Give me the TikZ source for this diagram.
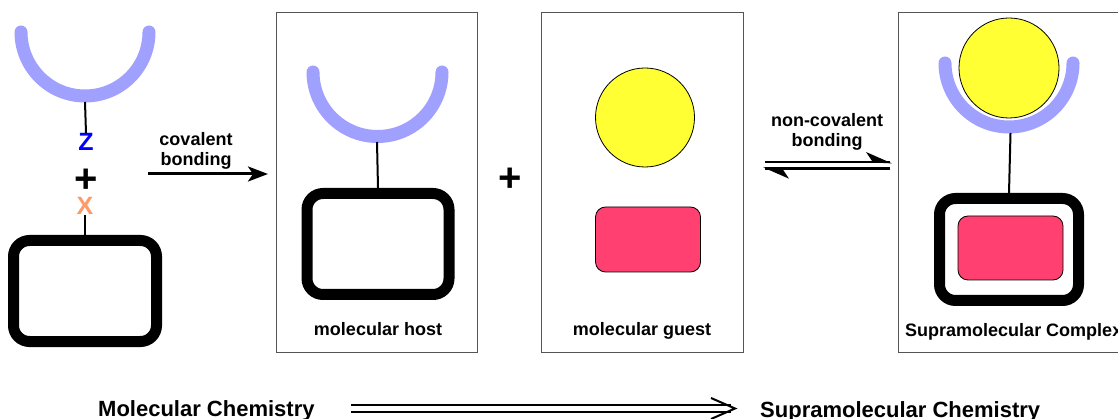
\documentclass[tikz,border=0pt]{standalone}
\usepackage{fontspec}
\setmainfont{Liberation Sans}
\usetikzlibrary{arrows.meta,calc}
\definecolor{cupblue}{RGB}{160,160,255}
\definecolor{guestyellow}{RGB}{255,255,51}
\definecolor{guestpink}{RGB}{255,64,112}
\definecolor{zblue}{RGB}{0,0,255}
\definecolor{xorange}{RGB}{255,153,102}
\definecolor{framegray}{RGB}{85,85,85}

\begin{document}
\begin{tikzpicture}[x=1pt,y=-1pt,
  cup/.style={draw=cupblue, line width=13pt, line cap=round},
  ring/.style={draw=black, line width=11pt, rounded corners=16pt, rectangle, inner sep=0pt},
  panel/.style={draw=framegray, line width=1pt, rectangle, inner sep=0pt},
  stem/.style={draw=black, line width=2pt},
  guestball/.style={draw=black, line width=0.8pt, fill=guestyellow, circle, minimum size=99pt, inner sep=0pt},
  guestbox/.style={draw=black, line width=0.8pt, fill=guestpink, rounded corners=10pt, rectangle, inner sep=0pt},
  lbl/.style={font=\bfseries\fontsize{18}{21}\selectfont, inner sep=0pt, anchor=base},
  biglbl/.style={font=\bfseries\fontsize{22}{26}\selectfont, inner sep=0pt, anchor=base west},
  atom/.style={font=\bfseries\fontsize{25}{28}\selectfont, inner sep=0pt},
  plussign/.style={font=\bfseries\fontsize{40}{44}\selectfont, inner sep=0pt},
  bond/.style={draw=black, line width=2.8pt},
]
\useasboundingbox (0,0) rectangle (1118,419);
\clip (0,0) rectangle (1118,419);

% ---- separate building blocks ----
\draw[cup] (21,32) arc[start angle=180, end angle=0, radius=64];
\coordinate (cupLbot) at (85,102);
\node[atom, text=zblue] (Z) at (86,142) {Z};
\node[plussign] (plusL) at (86,181) {+};
\node[atom, text=xorange] (X) at (85,206) {X};
\node[ring, minimum width=143pt, minimum height=101pt] (ringL) at (85,291) {};
\draw[stem] (cupLbot) -- (Z.north);
\draw[stem] (X.south) -- (ringL.north);

% ---- covalent bonding arrow ----
\node[lbl] (cov1) at (196,146) {covalent};
\node[lbl] (cov2) at (196,166) {bonding};
\coordinate (covA) at (148,174);
\coordinate (covB) at (268,174);
\draw[line width=3pt, -{Stealth[length=20pt,width=15pt,inset=5pt]}] (covA) -- (covB);

% ---- molecular host ----
\node[panel, minimum width=201pt, minimum height=340pt] (panelH) at (376.5,182.8) {};
\draw[cup] (313,72) arc[start angle=180, end angle=0, radius=64.5];
\coordinate (cupHbot) at (377,142);
\node[ring, minimum width=142pt, minimum height=101pt] (ringH) at (378,244) {};
\draw[stem] (cupHbot) -- (ringH.north);
\node[lbl] (hostlbl) at (378,335) {molecular host};

\node[plussign] (plusM) at (510,180) {+};

% ---- molecular guest ----
\node[panel, minimum width=201.6pt, minimum height=340pt] (panelG) at (642.5,182.8) {};
\node[guestball] (ballG) at (645,117.5) {};
\node[guestbox, minimum width=105pt, minimum height=65pt] (boxG) at (648,239.5) {};
\node[lbl] (guestlbl) at (642,335) {molecular guest};

% ---- non-covalent equilibrium (half-headed arrows) ----
\node[lbl] (nc1) at (827,127) {non-covalent};
\node[lbl] (nc2) at (827,147) {bonding};
\coordinate (eqA) at (765,162);
\coordinate (eqB) at (890,162);
\coordinate (eqC) at (890,168.7);
\coordinate (eqD) at (765,168.7);
\draw[bond] (eqA) -- (eqB);
\fill ($(eqB)+(2,1.4)$) -- ($(eqB)+(-24,-10)$) -- ($(eqB)+(-17,0.5)$) -- cycle;
\draw[bond] (eqC) -- (eqD);
\fill ($(eqD)+(-2,-1.4)$) -- ($(eqD)+(24,10)$) -- ($(eqD)+(17,-0.5)$) -- cycle;

% ---- supramolecular complex ----
\node[panel, minimum width=240pt, minimum height=340pt] (panelS) at (1018,182.5) {};
\draw[cup] (945,63) arc[start angle=180, end angle=0, radius=64];
\node[guestball, minimum size=100pt] (ballS) at (1009,68) {};
\coordinate (cupSbot) at (1010.5,133);
\node[ring, minimum width=139pt, minimum height=102pt] (ringS) at (1009,249.5) {};
\node[guestbox, minimum width=105pt, minimum height=64pt] (boxS) at (1010.5,248) {};
\draw[stem] (cupSbot) -- (ringS.north);
\node[lbl, anchor=base west] (cpxlbl) at (905,336) {Supramolecular Complex};

% ---- bottom line ----
\node[biglbl] (molchem) at (98,416.5) {Molecular Chemistry};
\node[biglbl] (supchem) at (760,417.5) {Supramolecular Chemistry};
\coordinate (dA) at (351,408.5);
\coordinate (dB) at (735,408.5);
\draw[line width=2pt] ($(dA)+(0,-3.5)$) -- ($(dB)+(-4,-3.5)$);
\draw[line width=2pt] ($(dA)+(0,3.5)$) -- ($(dB)+(-4,3.5)$);
\draw[line width=2pt, line join=miter] ($(dB)+(-24,-10.5)$) -- (dB) -- ($(dB)+(-24,10.5)$);
\end{tikzpicture}
\end{document}
